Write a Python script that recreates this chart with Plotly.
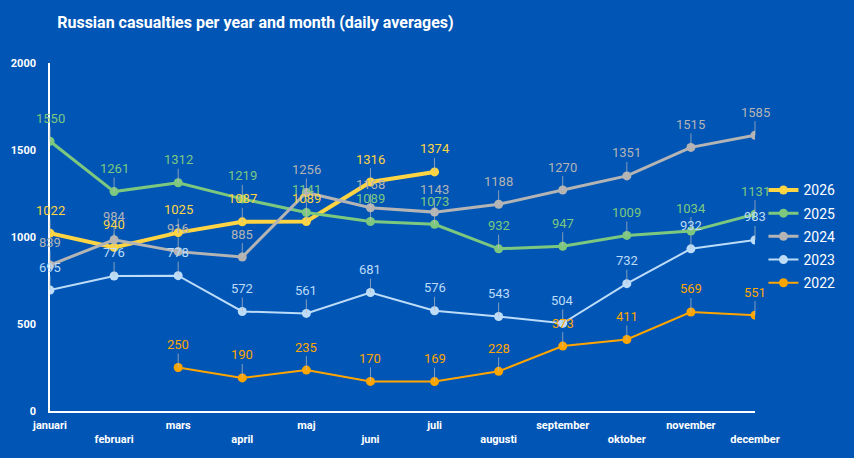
import plotly.graph_objects as go

months = ["januari", "februari", "mars", "april", "maj", "juni",
          "juli", "augusti", "september", "oktober", "november", "december"]

y2026 = [1022, 940, 1025, 1087, 1089, 1316, 1374, None, None, None, None, None]
y2025 = [1550, 1261, 1312, 1219, 1141, 1089, 1073, 932, 947, 1009, 1034, 1131]
y2024 = [839, 984, 916, 885, 1256, 1168, 1143, 1188, 1270, 1351, 1515, 1585]
y2023 = [695, 776, 778, 572, 561, 681, 576, 543, 504, 732, 932, 983]
y2022 = [None, None, 250, 190, 235, 170, 169, 228, 373, 411, 569, 551]

series = [
    ("2026", y2026, "#fdd444", 4),
    ("2025", y2025, "#7dc87f", 3),
    ("2024", y2024, "#b4b4b4", 3),
    ("2023", y2023, "#bcdcf8", 2),
    ("2022", y2022, "#ffa500", 2),
]

BG = "#0055b5"
FONT = "Roboto"

fig = go.Figure()
annotations = []
x = list(range(len(months)))

for name, vals, color, width in series:
    fig.add_trace(go.Scatter(
        x=x, y=vals, name=name, mode="lines+markers", legendgroup=name,
        line=dict(color=color, width=width),
        marker=dict(size=9, color=color),
        connectgaps=False,
    ))
    # value label above each point, with a short tick line down to the marker
    for xi, v in zip(x, vals):
        if v is None:
            continue
        annotations.append(dict(
            x=xi, y=v, xref="x", yref="y", text=str(v),
            showarrow=True, arrowhead=0, arrowwidth=1,
            arrowcolor="rgba(190,190,190,0.7)", ax=0, ay=-23,
            font=dict(family=FONT, size=13, color=color),
        ))

# staggered month labels: every other one on a second row
ticktext = [m if i % 2 == 0 else "<br>" + m for i, m in enumerate(months)]

fig.update_layout(
    width=854, height=458,
    paper_bgcolor=BG, plot_bgcolor=BG,
    font=dict(family=FONT, color="white"),
    title=dict(text="<b>Russian casualties per year and month (daily averages)</b>",
               x=0.067, xanchor="left", y=0.952, yanchor="middle",
               font=dict(family=FONT, size=16, color="white")),
    margin=dict(l=50, r=99, t=63, b=47),
    showlegend=True,
    legend=dict(x=1.012, xanchor="left", y=0.68, yanchor="top",
                font=dict(family=FONT, size=14, color="white"),
                bgcolor="rgba(0,0,0,0)", itemwidth=30, tracegroupgap=2),
    annotations=annotations,
    xaxis=dict(tickmode="array", tickvals=x, ticktext=ticktext,
               range=[0, 11], showgrid=False, zeroline=False,
               showline=True, linecolor="white", linewidth=1.5,
               ticks="", ticklabelstandoff=3,
               tickfont=dict(family=FONT, size=11, color="white", weight="bold"),
               fixedrange=True),
    yaxis=dict(range=[0, 2000], tickvals=[0, 500, 1000, 1500, 2000],
               showgrid=False, zeroline=False, showline=True,
               linecolor="white", linewidth=1.5, ticks="", ticklabelstandoff=10,
               tickfont=dict(family=FONT, size=11, color="white", weight="bold"),
               fixedrange=True),
)

fig.write_html("out.html", config={"displayModeBar": False},
               post_script="document.body.style.margin='0';")
